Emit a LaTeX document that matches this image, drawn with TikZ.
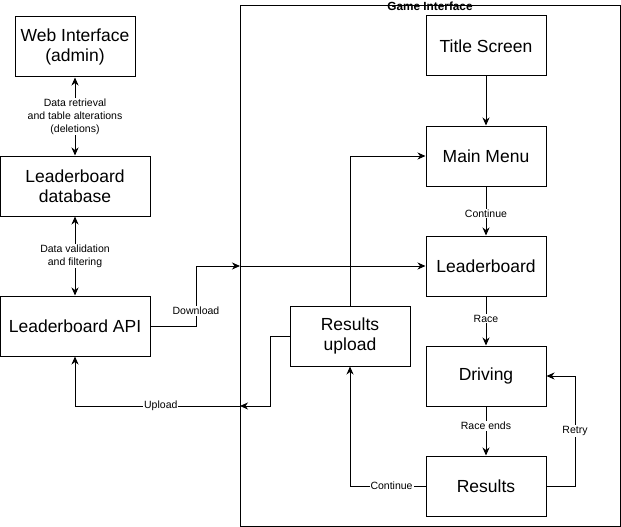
\documentclass[tikz,border=0pt]{standalone}
\usepackage{fontspec}
\setmainfont{Liberation Sans}
\usetikzlibrary{arrows.meta}
\begin{document}
\begin{tikzpicture}[x=1pt,y=-1pt,
  box/.style={draw,line width=1pt,minimum width=120pt,minimum height=60pt,align=center,font=\fontsize{17.5}{20}\selectfont,inner sep=0pt},
  wbox/.style={box,minimum width=150pt},
  conn/.style={line width=1pt,-{Stealth[length=8pt,width=7pt,inset=2.5pt]}},
  bconn/.style={line width=1pt,{Stealth[length=8pt,width=7pt,inset=2.5pt]}-{Stealth[length=8pt,width=7pt,inset=2.5pt]}},
  lbl/.style={fill=white,inner sep=1pt,align=center,font=\fontsize{10.5}{13}\selectfont}]
\useasboundingbox (0,0) rectangle (621,527);
\fill[white] (0,0) rectangle (621,527);
% container
\node[draw,line width=1pt,minimum width=380pt,minimum height=520pt,inner sep=0pt] (gi) at (430,266) {};
\node[font=\fontsize{11.8}{13}\bfseries\selectfont,inner sep=0pt] (gilabel) at (430,6) {Game Interface};
% nodes
\node[box] (web) at (75,47) {Web Interface\\(admin)};
\node[wbox] (db) at (75,186) {Leaderboard\\database};
\node[wbox] (api) at (75,326) {Leaderboard API};
\node[box] (title) at (486,46) {Title Screen};
\node[box] (menu) at (486,156) {Main Menu};
\node[box] (lb) at (486,266) {Leaderboard};
\node[box] (drive) at (486,376) {Driving};
\node[box] (res) at (486,486) {Results};
\node[box] (upl) at (350,336) {Results\\upload};
\coordinate (gin1) at (240,266);
\coordinate (gin2) at (240,406);
% connectors
\draw[bconn] (web) -- node[lbl] {Data retrieval\\and table alterations\\(deletions)} (db);
\draw[bconn] (db) -- node[lbl] {Data validation\\and filtering} (api);
\draw[conn] (api.east) -- (196,326) -- node[lbl,pos=0.25] {Download} (196,266) -- (gin1);
\draw[conn] (gin1) -- (lb.west);
\draw[conn] (upl.west) -- (270,336) -- (270,406) -- (gin2);
\draw[conn] (gin2) -- node[lbl,pos=0.48] {Upload} (75,406) -- (api.south);
\draw[conn] (upl.north) |- (menu.west);
\draw[conn] (title) -- (menu);
\draw[conn] (menu) -- node[lbl,pos=0.55] {Continue} (lb);
\draw[conn] (lb) -- node[lbl,pos=0.45] {Race} (drive);
\draw[conn] (drive) -- node[lbl,pos=0.4] {Race ends} (res);
\draw[conn] (res.east) -- (575,486) -- node[lbl,pos=0.5] {Retry} (575,376) -- (drive.east);
\draw[conn] (res.west) -- node[lbl,pos=0.45] {Continue} (350,486) -- (upl.south);
\end{tikzpicture}
\end{document}
